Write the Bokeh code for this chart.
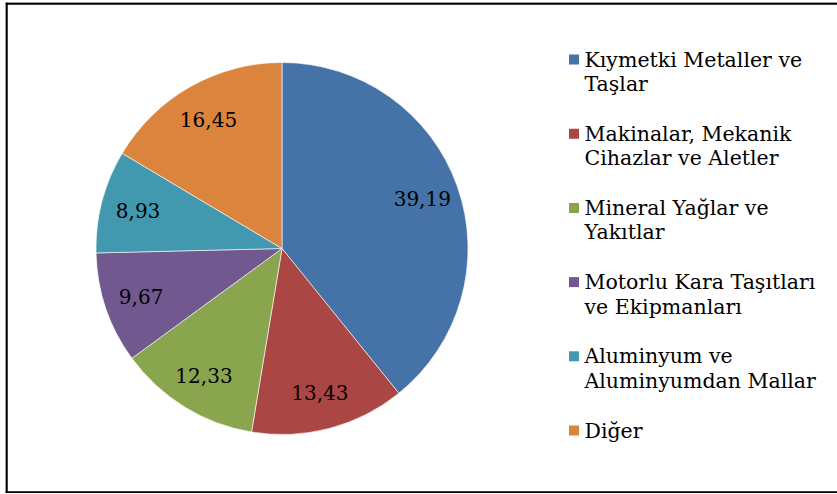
import math
from bokeh.plotting import figure
from bokeh.models import Range1d, Span, ColumnDataSource
from bokeh.core.properties import value
from bokeh.embed import file_html
from bokeh.resources import INLINE

# ---- data ----
categories = [
    "Kıymetki Metaller ve\nTaşlar",
    "Makinalar, Mekanik\nCihazlar ve Aletler",
    "Mineral Yağlar ve\nYakıtlar",
    "Motorlu Kara Taşıtları\nve Ekipmanları",
    "Aluminyum ve\nAluminyumdan Mallar",
    "Diğer",
]
shares = [39.19, 13.43, 12.33, 9.67, 8.93, 16.45]
labels = ["39,19", "13,43", "12,33", "9,67", "8,93", "16,45"]
colors = ["#4572A7", "#AA4643", "#89A54E", "#71588F", "#4198AF", "#DB843D"]

# ---- layout ----
W, H = 832, 491
FONT = "DejaVu Serif"
CX, CY, R = 276.5, 245.0, 186.0
LBL_R = 0.8 * R
LEG_X, LEG_Y0, LEG_STEP, LINE_STEP = 568.5, 434.0, 74.2, 24.5

p = figure(width=W, height=H, output_backend="svg", toolbar_location=None,
           x_range=Range1d(0, W), y_range=Range1d(0, H),
           min_border=0, margin=(2, 0, 0, 5))
p.axis.visible = False
p.xgrid.visible = False
p.ygrid.visible = False
p.outline_line_color = None
p.background_fill_color = "white"
p.border_fill_color = "white"

total = sum(shares)
starts, ends, lx, ly = [], [], [], []
cum = 0.0
for v in shares:
    a0 = math.pi / 2 - 2 * math.pi * cum / total
    a1 = math.pi / 2 - 2 * math.pi * (cum + v) / total
    mid = (a0 + a1) / 2
    starts.append(a0)
    ends.append(a1)
    lx.append(CX + LBL_R * math.cos(mid))
    ly.append(CY + LBL_R * math.sin(mid))
    cum += v

src = ColumnDataSource(dict(start=starts, end=ends, color=colors, lx=lx, ly=ly, label=labels))
p.wedge(x=CX, y=CY, radius=R, start_angle="start", end_angle="end", direction="clock",
        fill_color="color", line_color="white", line_width=0.6, source=src)
p.text(x="lx", y="ly", text="label", source=src, text_align="center", text_baseline="middle",
       text_font=value(FONT), text_font_size="20px", text_color="black")

# legend
sq_x, sq_y, t1x, t1y, t1, t2x, t2y, t2 = [], [], [], [], [], [], [], []
for i, (c, col) in enumerate(zip(categories, colors)):
    y = LEG_Y0 - i * LEG_STEP
    sq_x.append(LEG_X)
    sq_y.append(y)
    parts = c.split("\n")
    t1x.append(LEG_X + 10.5)
    t1y.append(y)
    t1.append(parts[0])
    if len(parts) > 1:
        t2x.append(LEG_X + 10.5)
        t2y.append(y - LINE_STEP)
        t2.append(parts[1])
p.rect(x=sq_x, y=sq_y, width=10, height=10, width_units="screen", height_units="screen",
       fill_color=colors, line_color=None)
p.text(x=t1x, y=t1y, text=t1, text_align="left", text_baseline="middle",
       text_font=value(FONT), text_font_size="20.5px", text_color="black")
p.text(x=t2x, y=t2y, text=t2, text_align="left", text_baseline="middle",
       text_font=value(FONT), text_font_size="20.5px", text_color="black")

# frame
for loc, dim in [(1, "height"), (H - 1, "width"), (1, "width")]:
    p.add_layout(Span(location=loc, dimension=dim, line_color="black", line_width=2.5))

open("out.html", "w").write(file_html(p, INLINE))
